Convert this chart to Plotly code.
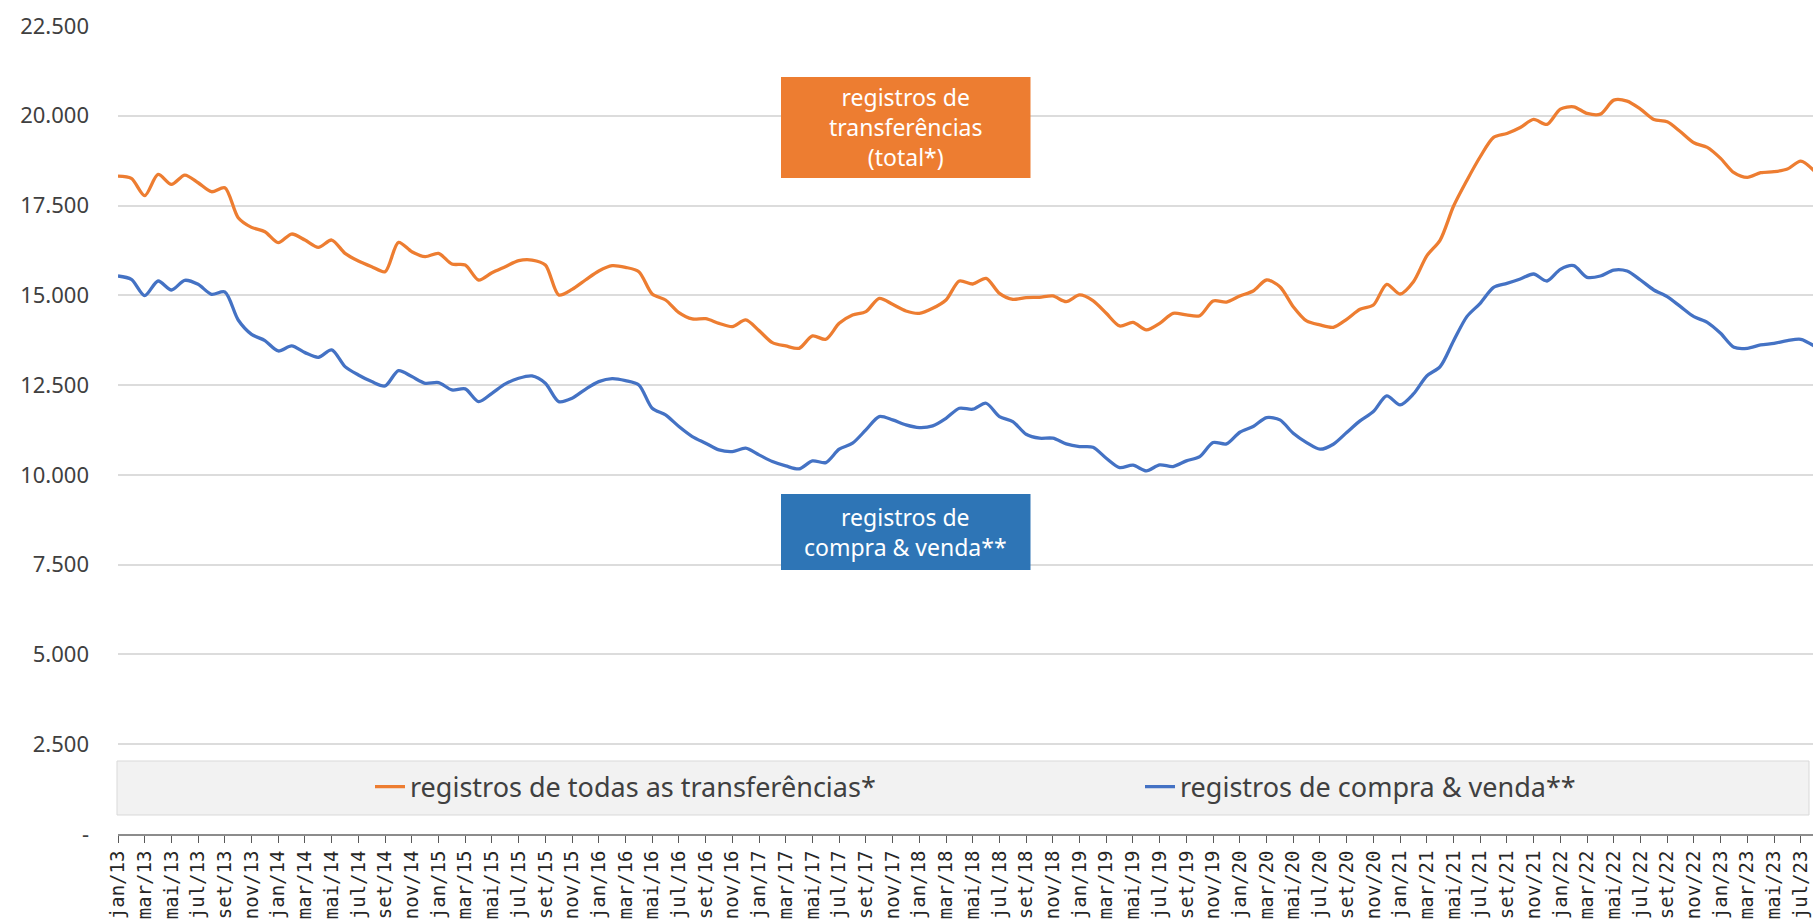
import plotly.graph_objects as go

# Month labels (Portuguese abbreviations), jan/13 .. ago/23
MESES = ["jan", "fev", "mar", "abr", "mai", "jun", "jul", "ago", "set", "out", "nov", "dez"]
meses = [f"{m}/{a}" for a in range(13, 24) for m in MESES][:128]

# Registros de todas as transferências (total*)
total = [
    18321, 18256, 17774, 18367, 18089, 18349, 18135, 17885, 17996, 17162,
    16893, 16772, 16466, 16707, 16540, 16336, 16540, 16169, 15956, 15798,
    15659, 16476, 16215, 16076, 16169, 15872, 15844, 15427, 15631, 15798,
    15965, 15983, 15844, 15010, 15167, 15427, 15677, 15826, 15779, 15659,
    15037, 14870, 14518, 14342, 14351, 14221, 14128, 14314, 14017, 13683,
    13590, 13525, 13869, 13776, 14221, 14453, 14546, 14917, 14750, 14564,
    14499, 14638, 14870, 15399, 15316, 15473, 15056, 14889, 14935, 14945,
    14982, 14824, 15010, 14852, 14499, 14147, 14245, 14036, 14221, 14499,
    14453, 14434, 14842, 14814, 14982, 15121, 15427, 15241, 14685, 14286,
    14175, 14110, 14333, 14611, 14731, 15306, 15037, 15380, 16100, 16540,
    17480, 18200, 18859, 19400, 19508, 19675, 19898, 19759, 20186, 20250,
    20065, 20046, 20436, 20408, 20186, 19898, 19833, 19555, 19249, 19119,
    18813, 18414, 18284, 18414, 18442, 18516, 18738, 18470,
]

# Registros de compra & venda**
compra_venda = [
    15538, 15445, 14991, 15399, 15149, 15418, 15306, 15028, 15093, 14314,
    13915, 13739, 13451, 13590, 13405, 13275, 13479, 13015, 12783, 12598,
    12477, 12904, 12737, 12551, 12570, 12366, 12394, 12041, 12273, 12533,
    12690, 12755, 12551, 12041, 12134, 12384, 12597, 12681, 12625, 12505,
    11856, 11670, 11346, 11067, 10882, 10696, 10650, 10743, 10557, 10371,
    10251, 10167, 10390, 10343, 10715, 10882, 11253, 11624, 11531, 11392,
    11318, 11364, 11577, 11856, 11828, 11995, 11624, 11485, 11132, 11021,
    11021, 10863, 10789, 10771, 10464, 10204, 10270, 10112, 10279, 10233,
    10390, 10511, 10900, 10863, 11188, 11346, 11596, 11531, 11160, 10900,
    10715, 10854, 11179, 11503, 11763, 12199, 11948, 12254, 12755, 13015,
    13729, 14407, 14778, 15223, 15334, 15455, 15594, 15399, 15724, 15826,
    15501, 15538, 15705, 15677, 15427, 15149, 14963, 14685, 14407, 14249,
    13943, 13553, 13525, 13618, 13664, 13738, 13776, 13590,
]

y_ticks = [0, 2500, 5000, 7500, 10000, 12500, 15000, 17500, 20000, 22500]
y_ticktext = ["-", "2.500", "5.000", "7.500", "10.000", "12.500", "15.000", "17.500", "20.000", "22.500"]
x_ticks = meses[::2]

ORANGE = "#ED7D31"
BLUE = "#4472C4"
TEXT = "#404040"

W, H = 1813, 920
L, R, T, B = 118, 0, 26, 86
PW, PH = W - L - R, H - T - B


def px(x):
    return (x - L) / PW


def py(y):
    return (H - B - y) / PH


fig = go.Figure()
fig.add_trace(go.Scatter(
    x=meses, y=total, mode="lines", name="registros de todas as transferências*",
    line=dict(color=ORANGE, width=3.3, shape="spline", smoothing=0.8),
    legend="legend", showlegend=True,
))
fig.add_trace(go.Scatter(
    x=meses, y=compra_venda, mode="lines", name="registros de compra & venda**",
    line=dict(color=BLUE, width=3.3, shape="spline", smoothing=0.8),
    legend="legend2", showlegend=True,
))

month_px = 13.355
x_range = [0, PW / month_px]

legend_font = dict(family="Noto Sans", size=27, color=TEXT)

fig.update_layout(
    width=W, height=H,
    showlegend=True,
    margin=dict(l=L, r=R, t=T, b=B, autoexpand=False),
    paper_bgcolor="white", plot_bgcolor="white",
    font=dict(family="Noto Sans", color=TEXT),
    xaxis=dict(
        type="category", categoryorder="array", categoryarray=meses,
        range=x_range, tickmode="array", tickvals=x_ticks, ticktext=x_ticks,
        tickangle=-90, tickfont=dict(family="DejaVu Sans Mono", size=19, color="#262626"),
        ticks="outside", ticklen=7, tickcolor="#595959", tickwidth=1.3,
        showline=True, linecolor="#8c8c8c", linewidth=2,
        showgrid=False, zeroline=False, automargin=False,
    ),
    xaxis2=dict(
        overlaying="x", anchor="y", range=x_range,
        tickmode="array", tickvals=list(range(0, len(meses), 2)),
        ticks="inside", ticklen=7, tickcolor="#595959", tickwidth=1.3,
        showticklabels=False, showgrid=False, showline=False, zeroline=False,
    ),
    yaxis=dict(
        range=[0, 22500], tickmode="array", tickvals=y_ticks, ticktext=y_ticktext,
        tickfont=dict(family="Noto Sans", size=22, color=TEXT),
        ticklabelstandoff=28,
        showgrid=True, gridcolor="#dcdcdc", gridwidth=1.5,
        zeroline=False, showline=False, ticks="", automargin=False,
    ),
    legend=dict(
        orientation="h", x=px(370), xanchor="left", y=py(787), yanchor="middle",
        bgcolor="rgba(0,0,0,0)", font=legend_font, visible=True,
    ),
    legend2=dict(
        orientation="h", x=px(1140), xanchor="left", y=py(787), yanchor="middle",
        bgcolor="rgba(0,0,0,0)", font=legend_font, visible=True,
    ),
    shapes=[
        # legend panel
        dict(type="rect", xref="paper", yref="paper",
             x0=px(117), x1=px(1809), y0=py(815), y1=py(761),
             fillcolor="#f2f2f2", line=dict(color="#d9d9d9", width=1), layer="below"),
        # series labels
        dict(type="rect", xref="paper", yref="paper",
             x0=px(781), x1=px(1030.5), y0=py(178), y1=py(77),
             fillcolor=ORANGE, line=dict(width=0), layer="above"),
        dict(type="rect", xref="paper", yref="paper",
             x0=px(781), x1=px(1030.5), y0=py(570), y1=py(494),
             fillcolor="#2E75B6", line=dict(width=0), layer="above"),
    ],
    annotations=[
        dict(xref="paper", yref="paper", x=px(905.7), y=py(127.5),
             text="registros de<br>transferências<br>(total*)", showarrow=False,
             font=dict(family="Noto Sans", size=23, color="white"),
             xanchor="center", yanchor="middle", align="center"),
        dict(xref="paper", yref="paper", x=px(905.7), y=py(532),
             text="registros de<br>compra &amp; venda**", showarrow=False,
             font=dict(family="Noto Sans", size=23, color="white"),
             xanchor="center", yanchor="middle", align="center"),
    ],
)

fig.write_html("out.html")
